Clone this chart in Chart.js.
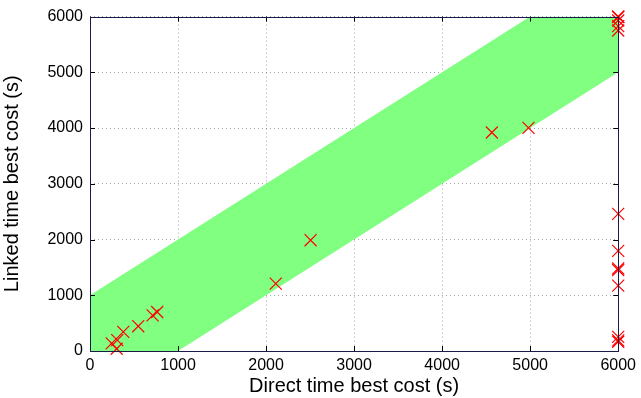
<!DOCTYPE html>
<html>
<head>
<meta charset="utf-8">
<script src="https://cdn.jsdelivr.net/npm/chart.js@4"></script>
<style>
  html, body { margin: 0; padding: 0; background: #fff; }
  #wrap { width: 641px; height: 398px; }
</style>
</head>
<body>
<div id="wrap"><canvas id="myChart" width="641" height="398"></canvas></div>
<script>
// band edges (linked = direct +/- 1000 s)
const bandX = [0, 1000, 5000, 6000];
const bandUpper = [1000, 2000, 6000, 6000];
const bandLower = [0, 0, 4000, 5000];

// measured runs
const directCost = [246, 310, 303, 378, 548, 711, 763, 2110, 2506, 4565, 4981,
  6000, 6000, 6000, 6000, 6000, 6000, 6000, 6000,
  6000, 6000, 6000, 6000, 6000, 6000];
const linkedCost = [137, 196, 40, 344, 445, 640, 700, 1210, 1988, 3920, 4004,
  2461, 1797, 1480, 1450, 1174, 254, 166, 190,
  6000, 6000, 5990, 5930, 5830, 5750];

const xTicks = [0, 1000, 2000, 3000, 4000, 5000, 6000];
const yTicks = [0, 1000, 2000, 3000, 4000, 5000, 6000];

const fontFamily = "'Liberation Sans', Arial, Helvetica, sans-serif";

// matlab style box with inward ticks
const boxPlugin = {
  id: 'box',
  afterDraw(chart) {
    const { ctx, chartArea: a, scales } = chart;
    ctx.save();
    ctx.strokeStyle = '#000';
    ctx.lineWidth = 1;
    ctx.beginPath();
    xTicks.forEach(v => {
      const px = Math.round(scales.x.getPixelForValue(v)) + 0.5;
      ctx.moveTo(px, a.bottom); ctx.lineTo(px, a.bottom - 5);
      ctx.moveTo(px, a.top); ctx.lineTo(px, a.top + 5);
    });
    yTicks.forEach(v => {
      const py = Math.round(scales.y.getPixelForValue(v)) + 0.5;
      ctx.moveTo(a.left, py); ctx.lineTo(a.left + 5, py);
      ctx.moveTo(a.right, py); ctx.lineTo(a.right - 5, py);
    });
    ctx.stroke();
    ctx.strokeStyle = '#1a1a48';
    ctx.strokeRect(Math.round(a.left) + 0.5, Math.round(a.top) + 0.5,
      Math.round(a.right - a.left), Math.round(a.bottom - a.top));
    ctx.restore();
  }
};

const ctx = document.getElementById('myChart').getContext('2d');

new Chart(ctx, {
  type: 'scatter',
  data: {
    datasets: [
      {
        label: 'upper',
        type: 'line',
        data: bandX.map((x, i) => ({ x: x, y: bandUpper[i] })),
        borderWidth: 0,
        borderColor: 'rgba(0,0,0,0)',
        pointRadius: 0,
        fill: false,
        order: 3
      },
      {
        label: 'lower',
        type: 'line',
        data: bandX.map((x, i) => ({ x: x, y: bandLower[i] })),
        borderWidth: 0,
        borderColor: 'rgba(0,0,0,0)',
        backgroundColor: '#80ff80',
        pointRadius: 0,
        fill: '-1',
        order: 2
      },
      {
        label: 'runs',
        data: directCost.map((x, i) => ({ x: x, y: linkedCost[i] })),
        pointStyle: 'crossRot',
        pointRadius: 8.5,
        pointBorderWidth: 1.2,
        borderColor: '#ff0000',
        backgroundColor: '#ff0000',
        clip: false,
        order: 1
      }
    ]
  },
  options: {
    responsive: false,
    animation: false,
    layout: { padding: { left: 0, right: 22, top: 14, bottom: 0 } },
    plugins: {
      legend: { display: false },
      tooltip: { enabled: false }
    },
    scales: {
      x: {
        type: 'linear',
        min: 0,
        max: 6000,
        z: 1,
        afterFit: s => { s.height = 47; },
        afterBuildTicks: s => { s.ticks = xTicks.map(v => ({ value: v })); },
        grid: { color: 'rgba(0,0,0,0.35)', drawTicks: false, lineWidth: 1 },
        border: { display: false, dash: [1, 3] },
        ticks: {
          color: '#000', font: { family: fontFamily, size: 16 }, padding: 5, maxRotation: 0,
          callback: v => String(v)
        },
        title: {
          display: true,
          text: 'Direct time best cost (s)',
          color: '#000',
          font: { family: fontFamily, size: 20 },
          padding: { top: -4, bottom: 0 }
        }
      },
      y: {
        type: 'linear',
        min: 0,
        max: 6000,
        z: 1,
        afterFit: s => { s.width = 90; },
        afterBuildTicks: s => { s.ticks = yTicks.map(v => ({ value: v })); },
        grid: { color: 'rgba(0,0,0,0.35)', drawTicks: false, lineWidth: 1 },
        border: { display: false, dash: [1, 3] },
        ticks: {
          color: '#000', font: { family: fontFamily, size: 16 }, padding: 7,
          callback: v => String(v)
        },
        title: {
          display: true,
          text: 'Linked time best cost (s)',
          color: '#000',
          font: { family: fontFamily, size: 20 },
          padding: { top: 0, bottom: 8 }
        }
      }
    }
  },
  plugins: [boxPlugin]
});
</script>
</body>
</html>
